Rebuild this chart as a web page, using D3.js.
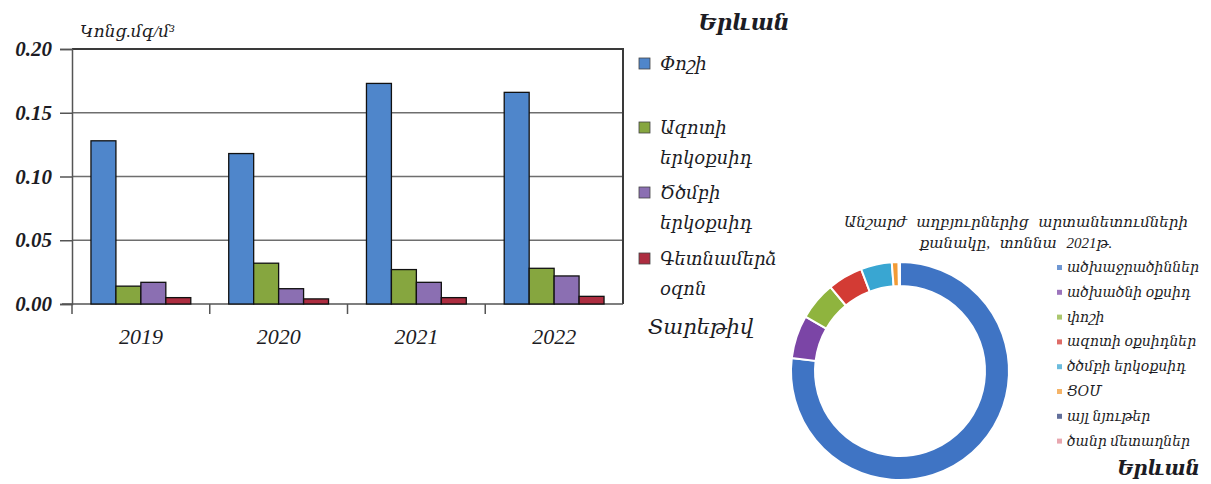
<!DOCTYPE html>
<html>
<head>
<meta charset="utf-8">
<script src="https://cdn.jsdelivr.net/npm/d3@7"></script>
<style>
  body { margin: 0; background: #fff; }
  svg { display: block; }
  text { font-family: 'Liberation Serif', 'DejaVu Serif', serif; font-style: italic; fill: #1c1c24; }
</style>
</head>
<body>
<svg width="1211" height="484"></svg>
<script>
// bar chart data (mg/m3, Yerevan)
var years = ["2019", "2020", "2021", "2022"];
var pollutants = ["Փոշի", "Ազոտի երկօքսիդ", "Ծծմբի երկօքսիդ", "Գետնամերձ օզոն"];
var dust = [0.128, 0.118, 0.173, 0.166];
var no2 = [0.014, 0.032, 0.027, 0.028];
var so2 = [0.017, 0.012, 0.017, 0.022];
var ozone = [0.005, 0.004, 0.005, 0.006];
var yTicks = [0, 0.05, 0.10, 0.15, 0.20];
var barColors = ["#4f86cb", "#86a63f", "#8b6fb2", "#ad2d40"];

// donut data (stationary sources, 2021, share of tonnage, estimated)
var sources = ["ածխաջրածիններ", "ածխածնի օքսիդ", "փոշի", "ազոտի օքսիդներ",
               "ծծմբի երկօքսիդ", "ՑՕՄ", "այլ նյութեր", "ծանր մետաղներ"];
var sourceShare = [76.9, 6.4, 5.7, 5.2, 4.6, 1.0, 0.15, 0.05];
var sourceColors = ["#3f74c4", "#7b45a6", "#8fb43e", "#d33b34", "#39a6d2", "#f29b35", "#2e3f7a", "#e08a94"];

var series = [dust, no2, so2, ozone];

var svg = d3.select("svg");

// ---------- bar chart ----------
var plotLeft = 72, plotRight = 623, plotTop = 49, plotBottom = 304;

var x0 = d3.scaleBand().domain(years).range([plotLeft, plotRight]).padding(0);
var x1 = d3.scaleBand().domain(d3.range(pollutants.length))
    .range([0, x0.bandwidth()]).paddingInner(0).paddingOuter(0.76);
var y = d3.scaleLinear().domain([0, 0.20]).range([plotBottom, plotTop]);

// gridlines
svg.append("g")
    .selectAll("line")
    .data(yTicks.slice(1, 4))
    .enter().append("line")
    .attr("x1", plotLeft).attr("x2", plotRight)
    .attr("y1", function (d) { return y(d); })
    .attr("y2", function (d) { return y(d); })
    .attr("stroke", "#6e6e6e")
    .attr("stroke-width", 1.5);

// frame (top + right)
svg.append("path")
    .attr("d", "M" + plotLeft + "," + y(0.20) + "H" + plotRight + "V" + y(0))
    .attr("fill", "none")
    .attr("stroke", "#3a3a3a")
    .attr("stroke-width", 2);

// y axis
var yAxis = svg.append("g")
    .attr("transform", "translate(" + plotLeft + ",0)")
    .call(d3.axisLeft(y).tickValues(yTicks).tickSize(12).tickFormat(d3.format(".2f")));
yAxis.select(".domain").attr("stroke", "#555").attr("stroke-width", 1.5);
yAxis.selectAll(".tick line").attr("stroke", "#555").attr("stroke-width", 1.5);
yAxis.selectAll(".tick text")
    .attr("x", -20)
    .style("font-size", "21px")
    .style("font-weight", "bold")
    .attr("fill", "#1e2236");

// x axis: ticks at category boundaries
var xAxis = svg.append("g")
    .attr("transform", "translate(0," + y(0) + ")");
xAxis.append("line")
    .attr("x1", plotLeft - 10).attr("x2", plotRight)
    .attr("stroke", "#555").attr("stroke-width", 1.5);
xAxis.selectAll(".bound")
    .data(years)
    .enter().append("line")
    .attr("class", "bound")
    .attr("x1", function (d) { return x0(d); })
    .attr("x2", function (d) { return x0(d); })
    .attr("y1", 0).attr("y2", 10)
    .attr("stroke", "#555").attr("stroke-width", 1.5);
xAxis.selectAll(".lbl")
    .data(years)
    .enter().append("text")
    .attr("class", "lbl")
    .attr("x", function (d) { return x0(d) + x0.bandwidth() / 2; })
    .attr("y", 40)
    .attr("text-anchor", "middle")
    .style("font-size", "22px")
    .text(function (d) { return d; });

// bars
var groups = svg.append("g")
    .selectAll("g")
    .data(years)
    .enter().append("g")
    .attr("transform", function (d) { return "translate(" + x0(d) + ",0)"; });

groups.selectAll("rect")
    .data(function (d, i) {
        return series.map(function (s, k) { return { k: k, v: s[i] }; });
    })
    .enter().append("rect")
    .attr("x", function (d) { return x1(d.k); })
    .attr("width", x1.bandwidth())
    .attr("y", function (d) { return y(d.v); })
    .attr("height", function (d) { return y(0) - y(d.v); })
    .attr("fill", function (d) { return barColors[d.k]; })
    .attr("stroke", "#111")
    .attr("stroke-width", 1.3);

// unit label
svg.append("text")
    .attr("x", 80).attr("y", 37)
    .style("font-size", "17px")
    .text("Կոնց.մգ/մ³");

// title
svg.append("text")
    .attr("x", 744).attr("y", 30)
    .attr("text-anchor", "middle")
    .style("font-size", "22px")
    .style("font-weight", "bold")
    .text("Երևան");

// legend
var legendY = [64, 128, 193, 259];
var legend = svg.append("g")
    .selectAll("g")
    .data(pollutants)
    .enter().append("g")
    .attr("transform", function (d, i) { return "translate(639," + legendY[i] + ")"; });
legend.append("rect")
    .attr("x", 0).attr("y", -6)
    .attr("width", 11).attr("height", 11)
    .attr("fill", function (d, i) { return barColors[i]; })
    .attr("stroke", "#444").attr("stroke-width", 0.8);
legend.append("text")
    .attr("x", 21)
    .attr("y", 6)
    .style("font-size", "18px")
    .selectAll("tspan")
    .data(function (d) { return d.split(" "); })
    .enter().append("tspan")
    .attr("x", 21)
    .attr("dy", function (d, i) { return i ? 30 : 0; })
    .text(function (d) { return d; });

svg.append("text")
    .attr("x", 648).attr("y", 334)
    .style("font-size", "21px")
    .text("Տարեթիվ");

// ---------- donut ----------
var cx = 900, cy = 371, rOut = 109, rIn = 85;
var pie = d3.pie().sort(null).value(function (d) { return d; });
var arc = d3.arc().innerRadius(rIn).outerRadius(rOut);

svg.append("g")
    .attr("transform", "translate(" + cx + "," + cy + ")")
    .selectAll("path")
    .data(pie(sourceShare))
    .enter().append("path")
    .attr("d", arc)
    .attr("fill", function (d, i) { return sourceColors[i]; })
    .attr("stroke", "#fff")
    .attr("stroke-width", 2);

var dTitle = svg.append("text")
    .attr("text-anchor", "middle")
    .style("font-size", "15px")
    .style("word-spacing", "6px");
dTitle.append("tspan").attr("x", 1016).attr("y", 227)
    .text("Անշարժ աղբյուրներից արտանետումների");
dTitle.append("tspan").attr("x", 1016).attr("y", 248)
    .text("քանակը, տոննա 2021թ.");

var dLegend = svg.append("g")
    .selectAll("g")
    .data(sources)
    .enter().append("g")
    .attr("transform", function (d, i) { return "translate(1057," + (268 + i * 24.8) + ")"; });
dLegend.append("rect")
    .attr("x", 0).attr("y", -3)
    .attr("width", 5).attr("height", 5)
    .attr("fill", function (d, i) { return sourceColors[i]; })
    .attr("opacity", 0.75);
dLegend.append("text")
    .attr("x", 10).attr("y", 4)
    .style("font-size", "14px")
    .text(function (d) { return d; });

svg.append("text")
    .attr("x", 1200).attr("y", 475)
    .attr("text-anchor", "end")
    .style("font-size", "20px")
    .style("font-weight", "bold")
    .text("Երևան");
</script>
</body>
</html>
